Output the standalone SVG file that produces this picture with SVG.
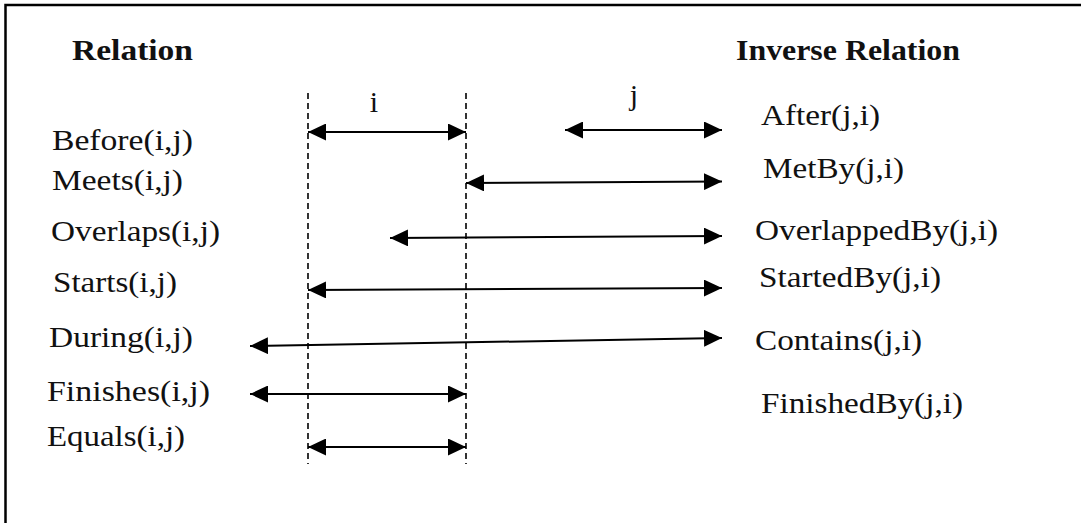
<svg xmlns="http://www.w3.org/2000/svg" width="1081" height="523" viewBox="0 0 1081 523">
<style>
.t{font-family:"Liberation Serif","Times New Roman",serif;font-size:30px;fill:#111;}
.h{font-family:"Liberation Serif","Times New Roman",serif;font-size:29px;font-weight:bold;fill:#111;}
.a{stroke:#000;stroke-width:2;fill:none;marker-start:url(#ah);marker-end:url(#ah);}
.d{stroke:#000;stroke-width:1.6;stroke-dasharray:6 4;fill:none;}
</style>
<defs>
<marker id="ah" markerUnits="userSpaceOnUse" markerWidth="18" markerHeight="17" refX="18" refY="8.5" orient="auto-start-reverse" viewBox="0 0 18 17">
<path d="M0,0 L18,8.5 L0,17 Z" fill="#000"/>
</marker>
</defs>
<rect width="1081" height="523" fill="#fff"/>
<rect x="5.5" y="5" width="1100" height="600" fill="none" stroke="#000" stroke-width="2.5"/>
<g id="headers">
<text class="h" x="72" y="60" textLength="121" lengthAdjust="spacingAndGlyphs">Relation</text>
<text class="h" x="736" y="60" textLength="224" lengthAdjust="spacingAndGlyphs">Inverse Relation</text>
</g>
<g id="interval-labels">
<text class="t" x="374" y="112" text-anchor="middle">i</text>
<text class="t" x="634" y="105" text-anchor="middle">j</text>
</g>
<g id="relations">
<text class="t" x="52" y="150" textLength="141" lengthAdjust="spacingAndGlyphs">Before(i,j)</text>
<text class="t" x="52" y="190" textLength="131" lengthAdjust="spacingAndGlyphs">Meets(i,j)</text>
<text class="t" x="51" y="241" textLength="169" lengthAdjust="spacingAndGlyphs">Overlaps(i,j)</text>
<text class="t" x="53" y="292" textLength="124" lengthAdjust="spacingAndGlyphs">Starts(i,j)</text>
<text class="t" x="49" y="347" textLength="144" lengthAdjust="spacingAndGlyphs">During(i,j)</text>
<text class="t" x="47" y="401" textLength="163" lengthAdjust="spacingAndGlyphs">Finishes(i,j)</text>
<text class="t" x="47" y="446" textLength="138" lengthAdjust="spacingAndGlyphs">Equals(i,j)</text>
</g>
<g id="inverse-relations">
<text class="t" x="761" y="125" textLength="119" lengthAdjust="spacingAndGlyphs">After(j,i)</text>
<text class="t" x="763" y="178" textLength="141" lengthAdjust="spacingAndGlyphs">MetBy(j,i)</text>
<text class="t" x="755" y="240" textLength="243" lengthAdjust="spacingAndGlyphs">OverlappedBy(j,i)</text>
<text class="t" x="759" y="287" textLength="182" lengthAdjust="spacingAndGlyphs">StartedBy(j,i)</text>
<text class="t" x="755" y="350" textLength="167" lengthAdjust="spacingAndGlyphs">Contains(j,i)</text>
<text class="t" x="761" y="413" textLength="202" lengthAdjust="spacingAndGlyphs">FinishedBy(j,i)</text>
</g>
<g id="connectors">
<line class="d" x1="308" y1="93" x2="308" y2="464"/>
<line class="d" x1="466" y1="93" x2="466" y2="464"/>
<line class="a" x1="308" y1="132" x2="466" y2="132"/>
<line class="a" x1="565" y1="130" x2="722" y2="130"/>
<line class="a" x1="466" y1="183" x2="722" y2="181.5"/>
<line class="a" x1="390" y1="238" x2="722" y2="236"/>
<line class="a" x1="308" y1="290" x2="722" y2="288"/>
<line class="a" x1="250" y1="346" x2="722" y2="338"/>
<line class="a" x1="250" y1="394" x2="466" y2="394"/>
<line class="a" x1="308" y1="447" x2="466" y2="447"/>
</g>
</svg>
